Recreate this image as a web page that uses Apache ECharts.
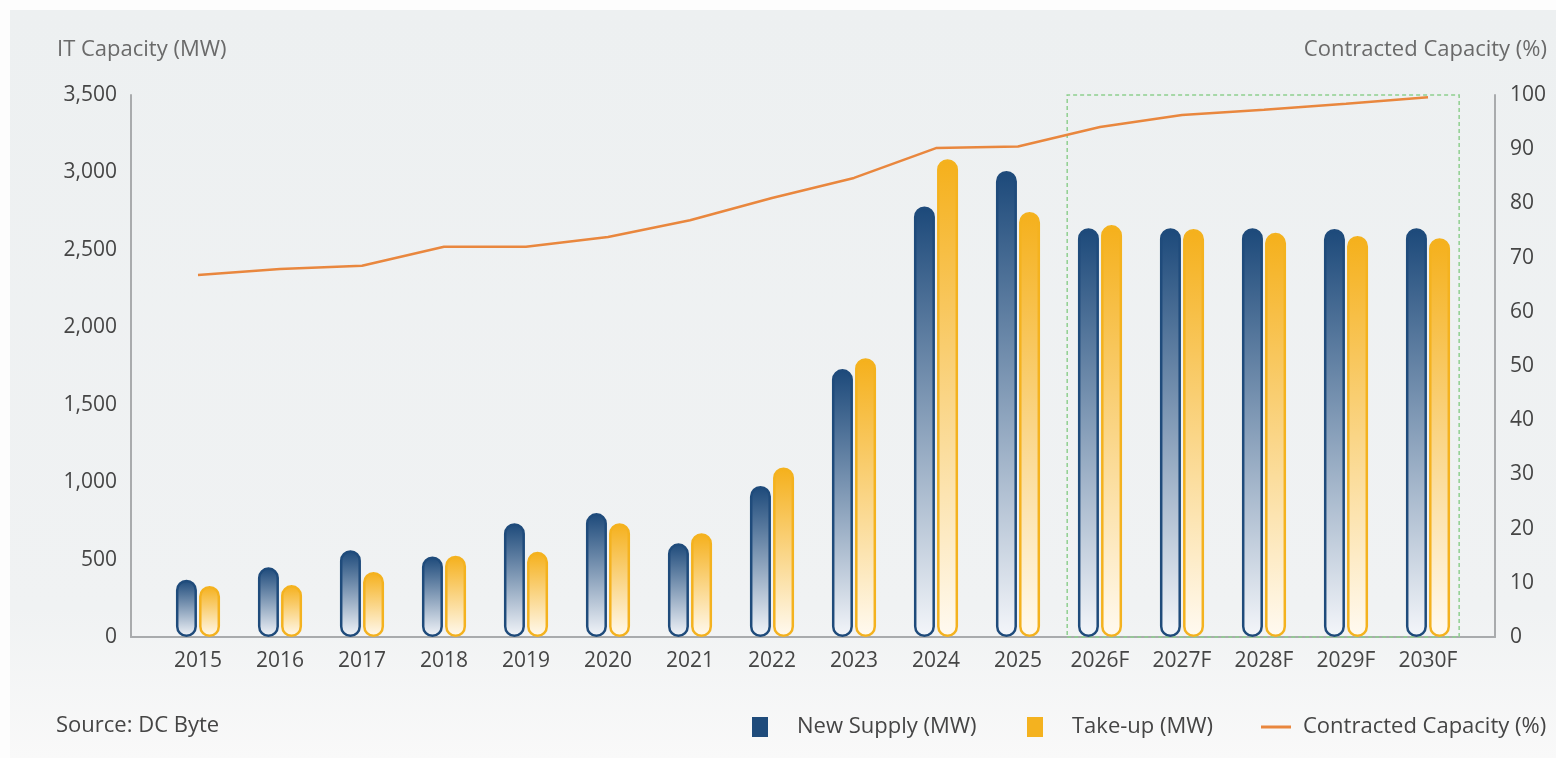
<!DOCTYPE html>
<html>
<head>
<meta charset="utf-8">
<title>IT Capacity</title>
<script src="https://cdn.jsdelivr.net/npm/echarts@6/dist/echarts.min.js"></script>
<style>
  html, body { margin: 0; padding: 0; background: #fdfdfd; }
  #chart { width: 1556px; height: 758px; }
</style>
</head>
<body>
<div id="chart"></div>
<script>
// Years on the category axis
const categories = ['2015', '2016', '2017', '2018', '2019', '2020', '2021', '2022', '2023',
  '2024', '2025', '2026F', '2027F', '2028F', '2029F', '2030F'];
// IT capacity, MW
const newSupply = [370, 450, 560, 520, 735, 800, 605, 975, 1730, 2780, 3010, 2640, 2640, 2640, 2635, 2640];
const takeUp = [330, 335, 420, 525, 550, 735, 670, 1095, 1800, 3085, 2745, 2660, 2635, 2610, 2590, 2575];
// Contracted capacity, %
const contracted = [66.8, 67.9, 68.5, 72.0, 72.0, 73.8, 76.9, 81.0, 84.7, 90.2, 90.5, 94.1, 96.3, 97.3, 98.4, 99.6];
// Forecast window, expressed in category positions (band edges at +/-0.5)
const forecastSpan = [10.6, 15.38];

const FONT = '"Open Sans", Lato, sans-serif';
const AXIS_GREY = '#a9abad';
const TEXT = '#454545';
const BLUE = '#1f4b7b';
const YELLOW = '#f4b21f';
const ORANGE = '#e9873e';

const chart = echarts.init(document.getElementById('chart'));

function barFill(top, bottom) {
  return new echarts.graphic.LinearGradient(0, 0, 0, 1, [
    { offset: 0, color: top },
    { offset: 1, color: bottom }
  ]);
}

const legendText = { fontFamily: FONT, fontSize: 22, color: TEXT };

chart.setOption({
  animation: false,
  textStyle: { fontFamily: FONT },
  graphic: [{
    type: 'rect',
    z: -10,
    silent: true,
    shape: { x: 10, y: 10, width: 1546, height: 748 },
    style: {
      fill: new echarts.graphic.LinearGradient(0, 0, 0, 1, [
        { offset: 0, color: '#edf0f1' },
        { offset: 0.8, color: '#f0f2f3' },
        { offset: 1, color: '#f9f9f9' }
      ])
    }
  }],
  title: {
    text: 'Source: DC Byte',
    left: 51,
    top: 710,
    textStyle: { fontFamily: FONT, fontSize: 22, fontWeight: 'normal', color: TEXT }
  },
  legend: [
    {
      data: [{ name: 'New Supply (MW)', itemStyle: { color: BLUE, borderWidth: 0 } }],
      left: 747, top: 711,
      icon: 'rect', itemWidth: 16, itemHeight: 20,
      textStyle: Object.assign({ padding: [0, 0, 0, 24] }, legendText)
    },
    {
      data: [{ name: 'Take-up (MW)', itemStyle: { color: YELLOW, borderWidth: 0 } }],
      left: 1022, top: 711,
      icon: 'rect', itemWidth: 16, itemHeight: 20,
      textStyle: Object.assign({ padding: [0, 0, 0, 24] }, legendText)
    },
    {
      data: [{ name: 'Contracted Capacity (%)', itemStyle: { color: ORANGE } }],
      left: 1256, top: 711,
      icon: 'rect', itemWidth: 30, itemHeight: 3,
      textStyle: Object.assign({ padding: [0, 0, 0, 7] }, legendText)
    }
  ],
  grid: [
    // outer frame: left axis, baseline, right axis
    { left: 131, right: 61, top: 95, bottom: 121 },
    // plotting area
    { left: 157, right: 87, top: 95, bottom: 121 }
  ],
  xAxis: [
    {
      type: 'category',
      gridIndex: 1,
      data: categories,
      axisLine: { show: false },
      axisTick: { show: false },
      axisLabel: { fontFamily: FONT, fontSize: 21, color: TEXT, margin: 14 }
    },
    { type: 'value', gridIndex: 1, min: -0.5, max: 15.5, show: false },
    {
      type: 'value', gridIndex: 0, min: 0, max: 1,
      axisLine: { show: true, onZero: false, lineStyle: { color: AXIS_GREY, width: 2 } },
      axisTick: { show: false },
      axisLabel: { show: false },
      splitLine: { show: false }
    }
  ],
  yAxis: [
    {
      type: 'value',
      gridIndex: 1,
      min: 0, max: 3500, interval: 500,
      offset: 26,
      name: 'IT Capacity (MW)',
      nameLocation: 'end',
      nameGap: 34,
      nameTextStyle: { fontFamily: FONT, fontSize: 22, color: '#6a6a6a', align: 'left', padding: [0, 0, 0, -74] },
      axisLine: { show: true, onZero: false, lineStyle: { color: AXIS_GREY, width: 2 } },
      axisTick: { show: false },
      splitLine: { show: false },
      axisLabel: {
        fontFamily: FONT, fontSize: 21, color: TEXT, margin: 14,
        formatter: v => v.toLocaleString('en-US')
      }
    },
    {
      type: 'value',
      gridIndex: 1,
      position: 'right',
      min: 0, max: 100, interval: 10,
      offset: 26,
      name: 'Contracted Capacity (%)',
      nameLocation: 'end',
      nameGap: 34,
      nameTextStyle: { fontFamily: FONT, fontSize: 22, color: '#6a6a6a', align: 'right', padding: [0, -52, 0, 0] },
      axisLine: { show: true, onZero: false, lineStyle: { color: AXIS_GREY, width: 2 } },
      axisTick: { show: false },
      splitLine: { show: false },
      axisLabel: { fontFamily: FONT, fontSize: 21, color: TEXT, margin: 15 }
    },
    { type: 'value', gridIndex: 0, show: false }
  ],
  series: [
    {
      name: 'New Supply (MW)',
      type: 'bar',
      xAxisIndex: 0, yAxisIndex: 0,
      data: newSupply,
      barWidth: 21,
      barGap: '10%',
      itemStyle: {
        color: barFill('#1c497a', '#f4f6fa'),
        borderColor: BLUE,
        borderWidth: 2.5,
        borderRadius: 11
      }
    },
    {
      name: 'Take-up (MW)',
      type: 'bar',
      xAxisIndex: 0, yAxisIndex: 0,
      data: takeUp,
      barWidth: 21,
      barGap: '10%',
      itemStyle: {
        color: barFill('#f5b01b', '#fffaf1'),
        borderColor: YELLOW,
        borderWidth: 2.5,
        borderRadius: 11
      }
    },
    {
      name: 'Contracted Capacity (%)',
      type: 'line',
      xAxisIndex: 0, yAxisIndex: 1,
      data: contracted,
      symbol: 'none',
      itemStyle: { color: ORANGE },
      lineStyle: { color: ORANGE, width: 2.5 },
      z: 5
    },
    {
      // dashed outline around the forecast years
      name: 'forecast',
      type: 'line',
      xAxisIndex: 1, yAxisIndex: 1,
      data: [],
      silent: true,
      markArea: {
        silent: true,
        itemStyle: {
          color: 'rgba(0,0,0,0)',
          borderColor: '#8fcf8f',
          borderWidth: 1.5,
          borderType: [4, 3]
        },
        data: [[{ coord: [forecastSpan[0], 0] }, { coord: [forecastSpan[1], 100] }]]
      }
    }
  ]
});
</script>
</body>
</html>
